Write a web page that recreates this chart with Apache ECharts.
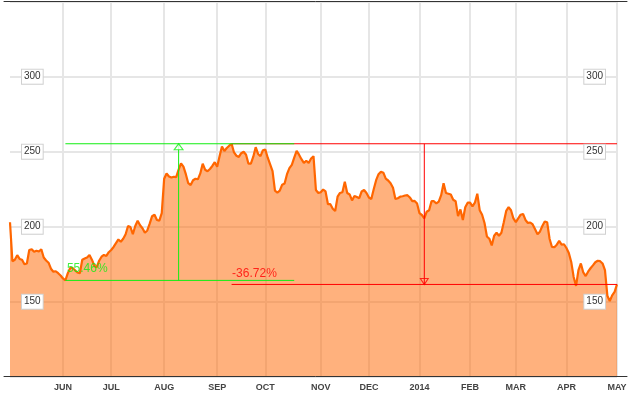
<!DOCTYPE html>
<html><head><meta charset="utf-8">
<script src="https://cdn.jsdelivr.net/npm/echarts@6/dist/echarts.min.js"></script>
<style>html,body{margin:0;padding:0;background:#fff}#c{width:633px;height:396px}</style>
</head><body><div id="c"></div>
<script>
// Daily closing values, one per trading day, 2013-05-01 .. 2014-05-01
const prices = [
203, 177, 178, 181, 178.5, 178, 175, 175.5, 184.5, 185,
183.3, 184, 183.5, 185, 179.5, 177.5, 176, 172, 170, 170.3,
169, 167.5, 165.5, 164.2, 169, 172.5, 172.5, 171, 169.5, 169,
178, 178.8, 179.5, 181.2, 178, 174, 173, 177.3, 180, 181.2,
180.5, 183, 184.5, 186.5, 189, 191.5, 190, 192, 195, 200.5,
199.8, 195, 200.5, 204, 201, 199, 196, 197.5, 202, 207,
208, 204.5, 204, 209, 232, 235.5, 233.5, 232.8, 233.3, 233,
238, 242.2, 240, 235, 229, 227.8, 231, 232, 231.6, 235.5,
242, 238, 237, 238.5, 240.5, 243, 240, 247, 253.5, 250.5,
252.5, 254, 255.3, 249.5, 247.3, 246.5, 249, 250, 248, 242,
242, 246.7, 253, 248.5, 247, 251, 251.5, 246, 241.5, 237,
224, 222.7, 224, 228, 228.8, 235, 239, 241.2, 246, 250.5,
248, 245, 242.5, 244, 242.5, 245.5, 247, 224.5, 222.5, 223,
224.8, 223.5, 215, 215, 212, 210.5, 220, 222.5, 223, 230,
222.5, 221.5, 217.5, 220.5, 219.8, 219, 223.5, 224.5, 222.5, 219.5,
218.5, 225, 231, 235, 236.7, 236, 232, 230.8, 229, 226,
218.5, 219, 220, 220.3, 220.8, 221, 219.5, 217, 217.2, 215.5,
209, 207.8, 205.5, 210, 211, 217, 217, 215.5, 216.7, 221,
229, 222.5, 222, 221.5, 218, 217, 207, 211.5, 204.5, 213,
216, 216, 213.5, 216, 222, 211, 208, 202.5, 193.5, 192,
187.5, 194, 196, 194, 196, 203, 210.5, 213, 211, 205.5,
203, 205.5, 208, 208.5, 204.5, 202.5, 202.8, 201.5, 198.3, 195,
196.7, 200.5, 203.5, 203, 192, 186.5, 186.3, 188, 190.5, 188,
188.3, 185.8, 182.5, 176.5, 166.5, 160.5, 171, 175.5, 169.5, 167.1,
170, 172.3, 174.2, 176.3, 177.3, 177, 175.5, 171, 154, 150.5,
154.2, 156.5, 161.5
];
// Market holidays in the period (trading-day category axis)
const holidays = ['2013-05-27','2013-07-04','2013-09-02','2013-11-28','2013-12-25',
                  '2014-01-01','2014-01-20','2014-02-17','2014-04-18'];
const monthLabels = ['JAN','FEB','MAR','APR','MAY','JUN','JUL','AUG','SEP','OCT','NOV','DEC'];
const yTicks = [100, 150, 200, 250, 300, 350];
// Annotations (measured moves)
const gainLabel = '55.46%';
const lossLabel = '-36.72%';
const gainEndIdx = 118, gainArrowIdx = 70;
const lossArrowIdx = 172;

function pad(n){return n<10?'0'+n:''+n;}
const dates = [];
(function(){
  let t = Date.UTC(2013,4,1);
  const end = Date.UTC(2014,4,1);
  while (t <= end) {
    const d = new Date(t);
    const wd = d.getUTCDay();
    const s = d.getUTCFullYear()+'-'+pad(d.getUTCMonth()+1)+'-'+pad(d.getUTCDate());
    if (wd !== 0 && wd !== 6 && holidays.indexOf(s) < 0) dates.push(s);
    t += 86400000;
  }
})();
function isMonthStart(i){ return i > 0 && dates[i] && dates[i].slice(5,7) !== dates[i-1].slice(5,7); }
function monthText(v){ const m = +v.slice(5,7); return m === 1 ? v.slice(0,4) : monthLabels[m-1]; }

let lowIdx = 0;
for (let i = 1; i <= gainEndIdx; i++) if (prices[i] < prices[lowIdx]) lowIdx = i;
let highIdx = 0;
for (let i = 1; i < prices.length; i++) if (prices[i] > prices[highIdx]) highIdx = i;
const lastIdx = prices.length - 1;
const low = prices[lowIdx], high = prices[highIdx], last = prices[lastIdx];

const FONT = '"Liberation Sans", Arial, Helvetica, sans-serif';
const GREEN = '#11ee11', RED = '#ff0000';
const GRID_C = '#e6e6e6';
const yMin = yTicks[0], yMax = yTicks[yTicks.length-1];

function seg(points, color, z){
  return {type:'line', xAxisIndex:0, yAxisIndex:0, data: points, symbol:'none',
    lineStyle:{color: color, width:1}, silent:true, z: z, animation:false};
}
const yLabel = {
  inside:true, showMinLabel:false, showMaxLabel:false, fontSize:10, color:'#333',
  fontFamily: FONT, backgroundColor:'#fff', borderColor:'#d0d0d0', borderWidth:1,
  padding:[2,2,1,2], lineHeight:11, margin:12
};
function labelAxis(pos){
  return {gridIndex:0, type:'value', position:pos, min:yMin, max:yMax, interval:50, z:10,
    axisLine:{show:false}, axisTick:{show:false}, axisLabel: yLabel, splitLine:{show:false}};
}

const chart = echarts.init(document.getElementById('c'), null, {renderer:'canvas'});
chart.setOption({
  animation:false,
  backgroundColor:'#fff',
  grid:[
    {left:10, right:16, top:1.7, bottom:19.3},
    {left:4, right:6, top:1.7, bottom:19.3}
  ],
  xAxis:[
    {gridIndex:0, type:'category', data: dates, boundaryGap:false,
     axisLine:{show:false}, axisTick:{show:false},
     axisLabel:{interval:(i)=>isMonthStart(i), formatter: monthText, fontSize:9,
       fontWeight:'bold', color:'#444', fontFamily: FONT, margin:6},
     splitLine:{show:true, interval:(i)=>isMonthStart(i), lineStyle:{color:GRID_C, width:2}}},
    {gridIndex:1, type:'value', min:0, max:1, position:'bottom',
     axisLine:{show:true, onZero:false, lineStyle:{color:'#333', width:1}},
     axisTick:{show:false}, axisLabel:{show:false}, splitLine:{show:false}, z:10},
    {gridIndex:1, type:'value', min:0, max:1, position:'top',
     axisLine:{show:true, onZero:false, lineStyle:{color:'#333', width:1}},
     axisTick:{show:false}, axisLabel:{show:false}, splitLine:{show:false}, z:10}
  ],
  yAxis:[
    {gridIndex:0, type:'value', position:'left', min:yMin, max:yMax, interval:50,
     axisLine:{show:false}, axisTick:{show:false}, axisLabel:{show:false},
     splitLine:{show:true, lineStyle:{color:GRID_C, width:2}}},
    labelAxis('left'),
    labelAxis('right'),
    {gridIndex:1, type:'value', min:0, max:1, show:false}
  ],
  series:[
    {type:'line', xAxisIndex:0, yAxisIndex:0, data: prices, symbol:'none', showSymbol:false,
     lineStyle:{color:'#ff6600', width:2.2}, areaStyle:{color:'#ff6600', opacity:0.51},
     silent:true, z:2},
    // loss measure (red)
    seg([[highIdx, high],[lastIdx, high]], RED, 4),
    seg([[highIdx, last],[lastIdx, last]], RED, 4),
    seg([[lossArrowIdx, high],[lossArrowIdx, last]], RED, 4),
    // gain measure (green)
    seg([[lowIdx, low],[gainEndIdx, low]], GREEN, 5),
    seg([[lowIdx, high],[gainEndIdx, high]], GREEN, 5),
    seg([[gainArrowIdx, low],[gainArrowIdx, high]], GREEN, 5),
    // arrow heads
    {type:'scatter', xAxisIndex:0, yAxisIndex:0, silent:true, z:6, symbol:'triangle',
     data:[
       {value:[gainArrowIdx, high], symbolSize:[9,6], symbolOffset:[0,3], symbolRotate:0,
        itemStyle:{color:'#fff', borderColor:GREEN, borderWidth:1}},
       {value:[lossArrowIdx, last], symbolSize:[8,6], symbolOffset:[0,-3], symbolRotate:180,
        itemStyle:{color:'rgba(255,255,255,0)', borderColor:RED, borderWidth:1}}
     ]},
    // move labels
    {type:'scatter', xAxisIndex:0, yAxisIndex:0, silent:true, z:6, symbolSize:1,
     itemStyle:{color:'rgba(0,0,0,0)'},
     data:[
       {value:[lowIdx, low], label:{show:true, formatter: gainLabel, color: GREEN, position:[2,-11]}},
       {value:[highIdx, last], label:{show:true, formatter: lossLabel, color: RED, position:[1,-10]}}
     ],
     label:{show:true, fontSize:12, fontFamily: FONT, align:'left', verticalAlign:'middle'}}
  ]
});
</script></body></html>
